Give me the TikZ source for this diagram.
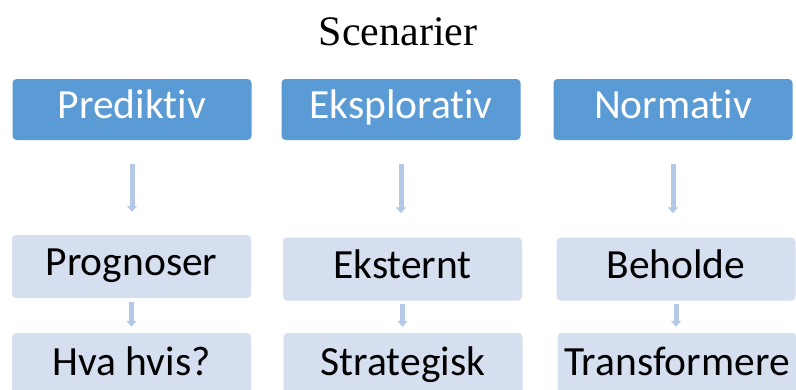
\documentclass[tikz,border=0pt]{standalone}
\usepackage{fontspec}
\setmainfont{Liberation Serif}
\newfontfamily\boxfont[Ligatures=NoCommon]{Carlito}
\usetikzlibrary{arrows.meta}
\definecolor{topblue}{HTML}{5B9BD5}
\definecolor{paleblue}{HTML}{D5DFF0}
\definecolor{arrowblue}{HTML}{B4C8E8}
\tikzset{
  basebox/.style={rounded corners=4pt, inner sep=0pt, minimum width=239pt,
    text height=28pt, text depth=10pt,
    font=\boxfont\fontsize{41.5}{48}\selectfont},
  headbox/.style={basebox, fill=topblue, text=white, minimum height=61pt},
  itembox/.style={basebox, fill=paleblue, text=black, minimum height=63pt},
  flow/.style={draw=arrowblue, line width=5pt,
    -{Triangle[width=10pt,length=6pt]}},
}
\begin{document}
\begin{tikzpicture}[x=1pt,y=-1pt]
  \useasboundingbox (0,0) rectangle (796,389);
  \clip (0,0) rectangle (796,389);

  % title
  \node[anchor=base, font=\fontsize{42}{50}\selectfont] (title) at (398,45) {Scenarier};

  % scenario types
  \node[headbox] (pred) at (132,109.5) {Prediktiv};
  \node[headbox] (eksp) at (401,109.5) {Eksplorativ};
  \node[headbox] (norm) at (673,109.5) {Normativ};

  % second level
  \node[itembox] (prog) at (131.5,266.5) {Prognoser};
  \node[itembox] (ekst) at (402.5,269) {Eksternt};
  \node[itembox] (beh)  at (676,269)   {Beholde};

  % third level (runs past the lower edge)
  \node[itembox, minimum height=66pt] (hva)  at (131.5,366) {Hva hvis?};
  \node[itembox, minimum height=66pt] (strat) at (403,366) {Strategisk};
  \node[itembox, minimum height=66pt] (trans) at (677,366) {Transformere};

  % connectors
  \draw[flow, shorten <=24pt, shorten >=23pt] (pred.south) -- (pred.south |- prog.north);
  \draw[flow, shorten <=24pt, shorten >=24pt] (eksp.south) -- (eksp.south |- ekst.north);
  \draw[flow, shorten <=24pt, shorten >=24pt] (norm.south) -- (norm.south |- beh.north);

  \draw[flow, shorten <=4pt, shorten >=6pt] (prog.south) -- (prog.south |- hva.north);
  \draw[flow, shorten <=3pt, shorten >=6pt] (ekst.south) -- (ekst.south |- strat.north);
  \draw[flow, shorten <=3pt, shorten >=6pt] (beh.south) -- (beh.south |- trans.north);
\end{tikzpicture}
\end{document}
